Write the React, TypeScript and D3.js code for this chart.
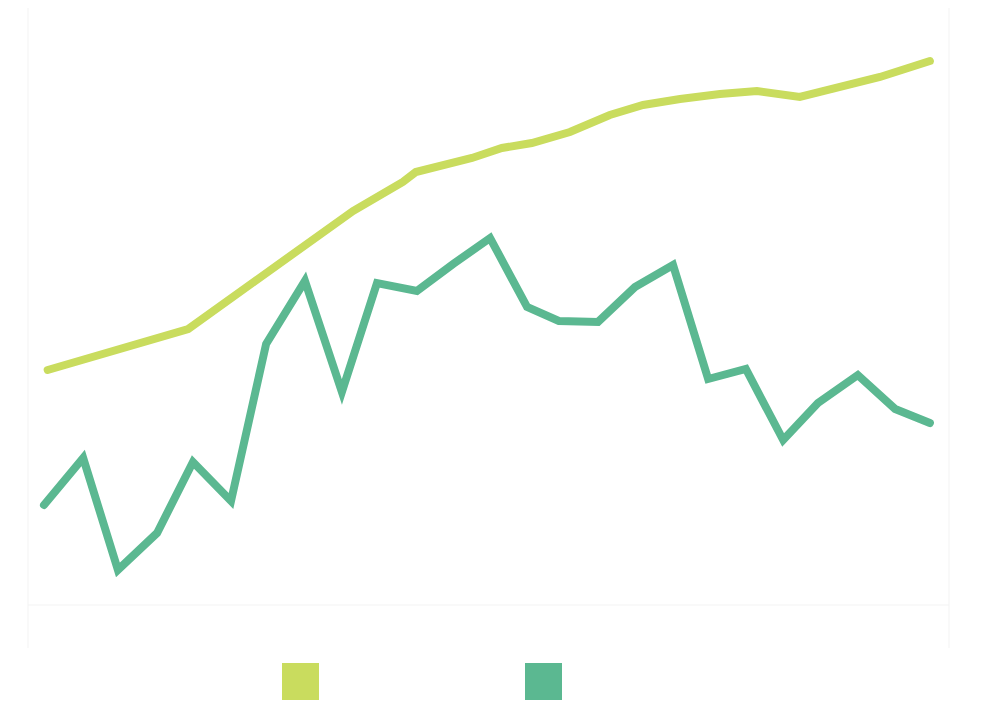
import React from "react";
import * as d3 from "d3";

const seriesNames = ["Series A", "Series B"];
const seriesColors = ["#c9dc5e", "#5bb891"];

// Series A (upper, smooth rising)
const seriesAX = [0.1, 3.9, 8.36, 9.71, 10.06, 11.58, 12.39, 13.2, 14.23, 15.31, 16.21, 17.21, 18.29, 19.29, 20.45, 22.62, 23.97];
const seriesAY = [235, 276, 394, 423, 433, 447, 457, 462, 473, 490, 500, 506, 511, 514, 508, 528, 544];

// Series B (lower, volatile)
const seriesBX = [0, 1.06, 2.0, 3.06, 4.03, 5.06, 6.01, 7.06, 8.06, 9.01, 10.09, 11.07, 12.07, 13.07, 13.93, 14.99, 15.99, 17.02, 17.97, 18.99, 20.0, 20.94, 22.02, 23.03, 23.97];
const seriesBY = [100, 147, 35, 72, 143, 104, 261, 324, 213, 322, 314, 341, 367, 298, 284, 283, 318, 340, 226, 236, 165, 202, 230, 196, 182];

const W = 976;
const H = 704;

export default function App() {
  const x = d3.scaleLinear().domain([0, 24]).range([36, 923]);
  const y = d3.scaleLinear().domain([0, 600]).range([597, -3]);

  const line = d3
    .line<[number, number]>()
    .x((d) => x(d[0]))
    .y((d) => y(d[1]));

  const dataA: [number, number][] = seriesAX.map((v, i) => [v, seriesAY[i]]);
  const dataB: [number, number][] = seriesBX.map((v, i) => [v, seriesBY[i]]);

  return (
    <svg width={W} height={H} style={{ display: "block" }}>
      <rect x={0} y={0} width={W} height={H} fill="#ffffff" />
      <line x1={20} x2={20} y1={0} y2={640} stroke="#f3f3f3" strokeWidth={1} />
      <line x1={941} x2={941} y1={0} y2={640} stroke="#f3f3f3" strokeWidth={1} />
      <line x1={20} x2={941} y1={y(0)} y2={y(0)} stroke="#f3f3f3" strokeWidth={1} />
      <path d={line(dataA) || ""} fill="none" stroke={seriesColors[0]} strokeWidth={8} strokeLinecap="round" strokeLinejoin="miter" />
      <path d={line(dataB) || ""} fill="none" stroke={seriesColors[1]} strokeWidth={8} strokeLinecap="round" strokeLinejoin="miter" />
      {seriesNames.map((name, i) => (
        <g key={name} transform={`translate(${274 + i * 243},655)`}>
          <rect width={37} height={37} fill={seriesColors[i]} />
          <text x={45} y={25} fill="#ffffff" fontFamily="Roboto" fontSize={14}>{name}</text>
        </g>
      ))}
    </svg>
  );
}
